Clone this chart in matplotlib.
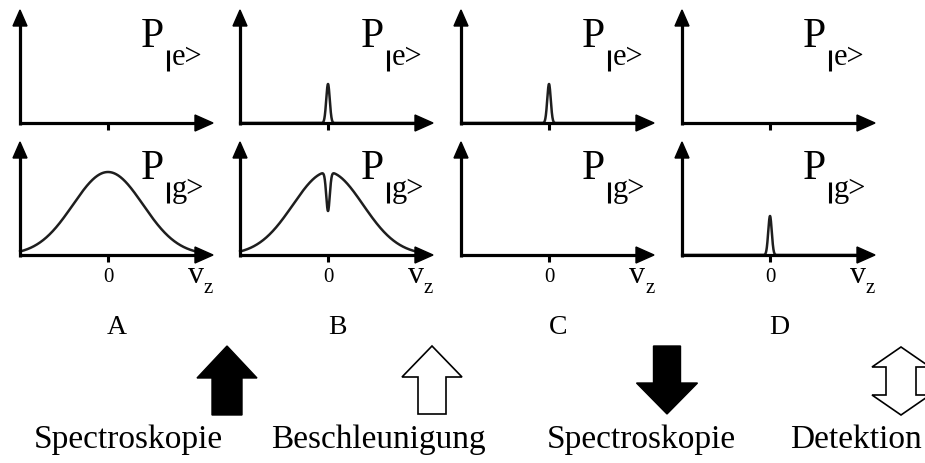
import numpy as np
import matplotlib
matplotlib.use("Agg")
import matplotlib.pyplot as plt
from matplotlib.patches import FancyArrow, Polygon

# ---- data -------------------------------------------------------------
stages = ["A", "B", "C", "D"]
# thermal (broad) ground-state distribution amplitude
ground_thermal = [1.0, 1.0, 0.0, 0.0]
# narrow hole burnt into the ground-state distribution
ground_hole = [0.0, 0.47, 0.0, 0.0]
# narrow velocity class in the ground state
ground_narrow = [0.0, 0.0, 0.0, 0.47]
# narrow velocity class in the excited state
excited_narrow = [0.0, 0.47, 0.47, 0.0]
thermal_sigma = 1.0
narrow_sigma = 0.05

step_labels = ["Spectroskopie", "Beschleunigung", "Spectroskopie", "Detektion"]

# ---- layout (pixels) ----------------------------------------------------
W, H = 925, 463
panel_x0 = [20, 240, 461, 682]
row_base = {"e": 123, "g": 255}
px_per_v = 35.0
px_per_amp = 83.0
zero_offset = 88
x_len = 193
y_len = 113
serif = ["Liberation Serif", "DejaVu Serif"]
curve_color = "#1e1e1e"

fig = plt.figure(figsize=(W / 100, H / 100), dpi=100)
ax = fig.add_axes([0, 0, 1, 1])
ax.set_xlim(0, W)
ax.set_ylim(H, 0)
ax.axis("off")

v = np.linspace(-2.51, 2.75, 5000)


def gauss(x, s):
    return np.exp(-x ** 2 / (2 * s ** 2))


def draw_axes(x0, yb, with_labels):
    lw = 2.3
    ax.plot([x0, x0 + x_len - 14], [yb, yb], color="black", lw=lw,
            solid_capstyle="butt", zorder=5)
    ax.add_patch(Polygon([[x0 + x_len, yb], [x0 + x_len - 18, yb - 8],
                          [x0 + x_len - 18, yb + 8]], closed=True,
                         color="black", zorder=6))
    ax.plot([x0, x0], [yb + 1.5, yb - y_len + 12], color="black", lw=lw,
            solid_capstyle="butt", zorder=5)
    ax.add_patch(Polygon([[x0, yb - y_len], [x0 - 7, yb - y_len + 16],
                          [x0 + 7, yb - y_len + 16]], closed=True,
                         color="black", zorder=6))
    ax.plot([x0 + zero_offset] * 2, [yb, yb + 7], color="black", lw=2.2,
            solid_capstyle="butt", zorder=5)
    if with_labels:
        ax.text(x0 + zero_offset, yb + 22, "0", fontsize=15, family=serif,
                ha="center", va="center")
        ax.text(x0 + 168, yb + 28, "v", fontsize=23, family=serif,
                ha="left", va="baseline")
        ax.text(x0 + 184, yb + 38, "z", fontsize=15, family=serif,
                ha="left", va="baseline")


def draw_state_label(x0, yb, state):
    ax.text(x0 + 121, yb - 76, "P", fontsize=30, family=serif,
            ha="left", va="baseline")
    ax.plot([x0 + 148, x0 + 148], [yb - 52, yb - 73], color="black",
            lw=2.2, solid_capstyle="butt")
    ax.text(x0 + 152, yb - 58, state + ">", fontsize=22, family=serif,
            ha="left", va="baseline")


for i, lab in enumerate(stages):
    x0 = panel_x0[i]
    xs = x0 + zero_offset + v * px_per_v

    # excited state row
    yb = row_base["e"]
    draw_axes(x0, yb, False)
    draw_state_label(x0, yb, "e")
    if excited_narrow[i] > 0:
        prof = excited_narrow[i] * gauss(v, narrow_sigma)
        ax.plot(xs, yb - prof * px_per_amp, color=curve_color, lw=1.8,
                zorder=4)

    # ground state row
    yb = row_base["g"]
    draw_axes(x0, yb, True)
    draw_state_label(x0, yb, "g")
    prof = (ground_thermal[i] * gauss(v, thermal_sigma)
            - ground_hole[i] * gauss(v, narrow_sigma)
            + ground_narrow[i] * gauss(v, narrow_sigma))
    if np.any(prof > 0):
        ax.plot(xs, yb - prof * px_per_amp, color=curve_color, lw=1.8,
                zorder=4)

    ax.text(x0 + 97, 328, lab, fontsize=20, family=serif,
            ha="center", va="center")

# ---- step arrows --------------------------------------------------------
ax.add_patch(FancyArrow(227, 415, 0, -69, width=30, head_width=60,
                        head_length=32, length_includes_head=True,
                        facecolor="black", edgecolor="black", lw=1))
ax.add_patch(FancyArrow(432, 414, 0, -68, width=28, head_width=60,
                        head_length=31, length_includes_head=True,
                        facecolor="white", edgecolor="black", lw=1.2))
ax.add_patch(FancyArrow(667, 346, 0, 68, width=27, head_width=61,
                        head_length=31, length_includes_head=True,
                        facecolor="black", edgecolor="black", lw=1))
cx, top, bot, hl, hw, sw = 901, 347, 415, 20, 29, 15
ax.add_patch(Polygon([[cx, top], [cx + hw, top + hl], [cx + sw, top + hl],
                      [cx + sw, bot - hl], [cx + hw, bot - hl], [cx, bot],
                      [cx - hw, bot - hl], [cx - sw, bot - hl],
                      [cx - sw, top + hl], [cx - hw, top + hl]],
                     closed=True, facecolor="white", edgecolor="black",
                     lw=1.2))

label_x = [128, 378, 641, 790]
label_ha = ["center", "center", "center", "left"]
for x, t, ha in zip(label_x, step_labels, label_ha):
    ax.text(x, 448, t, fontsize=24, family=serif, ha=ha, va="baseline")

fig.savefig("out.png", dpi=100)
